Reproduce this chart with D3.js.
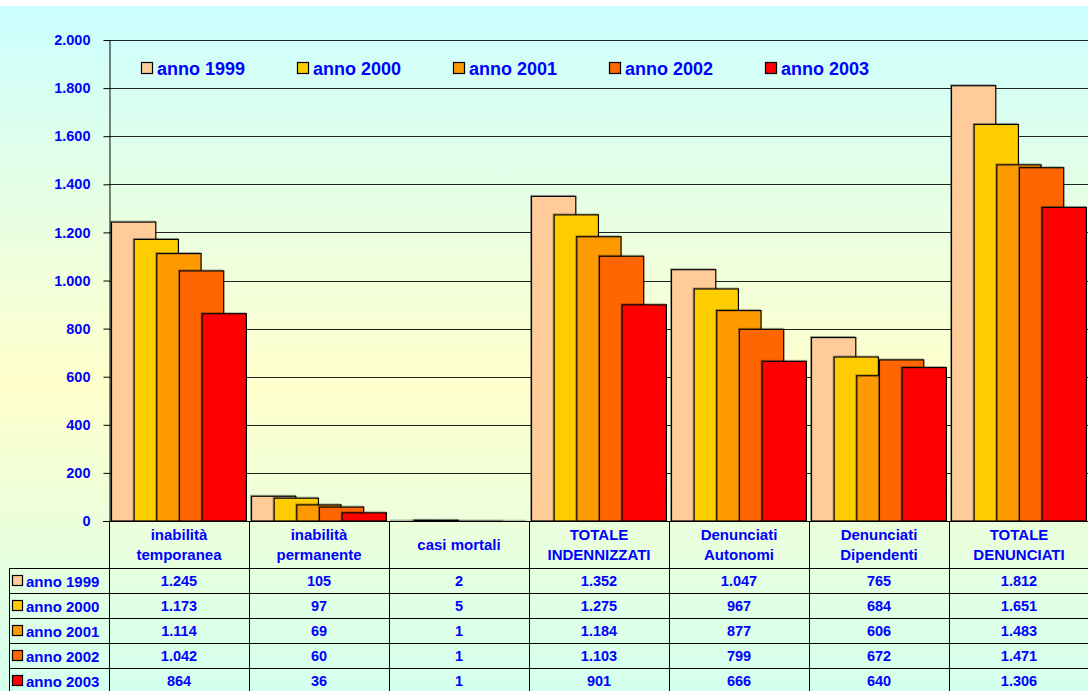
<!DOCTYPE html>
<html><head><meta charset="utf-8">
<script src="https://cdn.jsdelivr.net/npm/d3@7"></script>
<style>html,body{margin:0;padding:0;background:#fff;overflow:hidden}svg{display:block}</style>
</head><body>
<script>
const categories = [["inabilità","temporanea"],["inabilità","permanente"],["casi mortali"],["TOTALE","INDENNIZZATI"],["Denunciati","Autonomi"],["Denunciati","Dipendenti"],["TOTALE","DENUNCIATI"]];
const series = ["anno 1999","anno 2000","anno 2001","anno 2002","anno 2003"];
const colors = ["#ffcc99","#ffcc00","#ff9900","#ff6600","#ff0000"];
const v1999 = [1245,105,2,1352,1047,765,1812];
const v2000 = [1173,97,5,1275,967,684,1651];
const v2001 = [1114,69,1,1184,877,606,1483];
const v2002 = [1042,60,1,1103,799,672,1471];
const v2003 = [864,36,1,901,666,640,1306];
const values = [v1999,v2000,v2001,v2002,v2003];
const yTicks = [0,200,400,600,800,1000,1200,1400,1600,1800,2000];

(function(){
const W=1088,H=691;
const fmt = v => d3.format(",")(v).replace(/,/g,".");
const svg = d3.select("body").append("svg").attr("width",W).attr("height",H);
const defs = svg.append("defs");
const grad = defs.append("linearGradient").attr("id","bg").attr("x1",0).attr("y1",0).attr("x2",0).attr("y2",1);
grad.append("stop").attr("offset","0").attr("stop-color","#ccffff");
grad.append("stop").attr("offset","0.55").attr("stop-color","#ffffcc");
grad.append("stop").attr("offset","1").attr("stop-color","#d4ffee");
svg.append("rect").attr("x",0).attr("y",6).attr("width",W).attr("height",H-6).attr("fill","url(#bg)");

const left=109, catW=140, plotTop=40, bottom=521;
const x = d3.scaleBand().domain(d3.range(categories.length)).range([left,left+catW*categories.length]).paddingInner(0).paddingOuter(0);
const y = d3.scaleLinear().domain([0,2000]).range([bottom,plotTop]);
const blue="#0000ff";
const font="'Liberation Sans',Arial,sans-serif";

svg.append("g").selectAll("line").data(yTicks.filter(d=>d>0)).join("line")
 .attr("x1",left).attr("x2",W).attr("y1",d=>Math.round(y(d))+0.5).attr("y2",d=>Math.round(y(d))+0.5)
 .attr("stroke","#222").attr("stroke-width",1);

const yAxis = d3.axisLeft(y).tickValues(yTicks).tickSize(6).tickSizeOuter(0).tickPadding(7).tickFormat(fmt);
const ya = svg.append("g").attr("transform",`translate(${left+0.5},0)`).call(yAxis);
ya.select(".domain").attr("stroke","#000");
ya.selectAll(".tick line").attr("stroke","#000");
ya.selectAll("text").attr("fill",blue).attr("font-family",font).attr("font-weight","bold").attr("font-size","14.5px").attr("dx","-6");

const bw = 45.3, step = bw/2, off = 2;
series.forEach((s,i)=>{
  const g = svg.append("g");
  g.selectAll("rect.sh").data(values[i]).join("rect").attr("class","sh")
   .attr("x",(d,j)=>x(j)+off+i*step-0.5)
   .attr("y",d=>y(d)-0.5)
   .attr("width",bw-1)
   .attr("height",d=>Math.max(0,bottom-y(d)))
   .attr("fill","none").attr("stroke","#000").attr("stroke-opacity",0.3).attr("stroke-width",1);
  g.selectAll("rect.bar").data(values[i]).join("rect").attr("class","bar")
   .attr("x",(d,j)=>x(j)+off+i*step+0.5)
   .attr("y",d=>y(d)+0.5)
   .attr("width",bw-1)
   .attr("height",d=>Math.max(0,bottom-y(d)-0.5))
   .attr("fill",colors[i]).attr("stroke","#000").attr("stroke-width",1.2);
});

svg.append("line").attr("x1",left-6).attr("x2",W).attr("y1",bottom+0.5).attr("y2",bottom+0.5).attr("stroke","#000");

const lg = svg.append("g");
series.forEach((s,i)=>{
  const lx = 141 + i*156;
  lg.append("rect").attr("x",lx+0.5).attr("y",62.5).attr("width",11).attr("height",11).attr("fill",colors[i]).attr("stroke","#000").attr("stroke-width",1.2);
  lg.append("text").attr("x",lx+16).attr("y",74.5).text(s).attr("fill",blue).attr("font-family",font).attr("font-weight","bold").attr("font-size","18px");
});

const rowTop = 568, rowH = 25, tableLeft = 9;
const tg = svg.append("g");
d3.range(categories.length+1).forEach(j=>{
  const xx = left + j*catW + 0.5;
  tg.append("line").attr("x1",xx).attr("x2",xx).attr("y1",bottom).attr("y2",H).attr("stroke","#000");
});
tg.append("line").attr("x1",tableLeft+0.5).attr("x2",tableLeft+0.5).attr("y1",rowTop).attr("y2",H).attr("stroke","#000");
d3.range(series.length).forEach(r=>{
  const yy = rowTop + r*rowH + 0.5;
  tg.append("line").attr("x1",tableLeft).attr("x2",W).attr("y1",yy).attr("y2",yy).attr("stroke","#000");
});
categories.forEach((c,j)=>{
  const cx = x(j)+catW/2;
  const t = tg.append("text").attr("text-anchor","middle").attr("fill",blue).attr("font-family",font).attr("font-weight","bold").attr("font-size","15px");
  if(c.length===1){
    t.append("tspan").attr("x",cx).attr("y",550).text(c[0]);
  } else {
    t.append("tspan").attr("x",cx).attr("y",540).text(c[0]);
    t.append("tspan").attr("x",cx).attr("y",560).text(c[1]);
  }
});
series.forEach((s,i)=>{
  const cy = rowTop + i*rowH + rowH/2;
  tg.append("rect").attr("x",12.5).attr("y",cy-5).attr("width",10).attr("height",10).attr("fill",colors[i]).attr("stroke","#000").attr("stroke-width",1.2);
  tg.append("text").attr("x",26).attr("y",cy+6).text(s).attr("fill",blue).attr("font-family",font).attr("font-weight","bold").attr("font-size","15px");
  values[i].forEach((v,j)=>{
    tg.append("text").attr("x",x(j)+catW/2).attr("y",cy+5).attr("text-anchor","middle").text(fmt(v))
      .attr("fill",blue).attr("font-family",font).attr("font-weight","bold").attr("font-size","14.5px");
  });
});
})();
</script>
</body></html>
